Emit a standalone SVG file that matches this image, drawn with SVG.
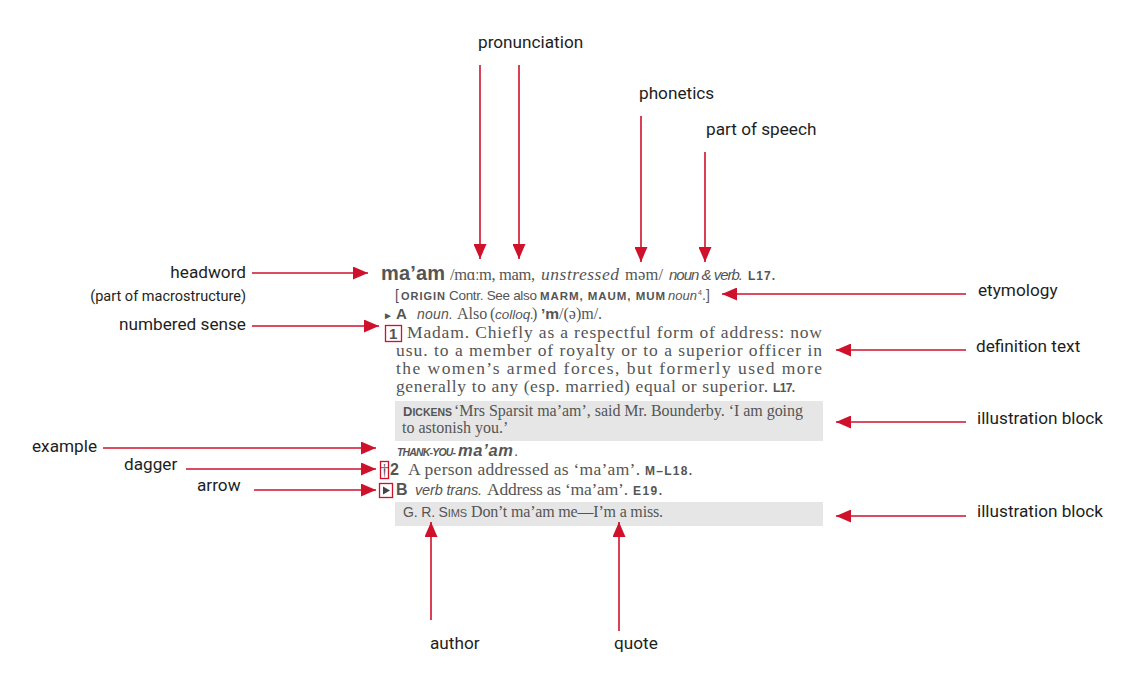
<svg xmlns="http://www.w3.org/2000/svg" width="1140" height="679" viewBox="0 0 1140 679">
<defs>
<marker id="ah" markerUnits="userSpaceOnUse" markerWidth="15" markerHeight="13" refX="15" refY="6.5" orient="auto">
<path d="M0,0 L15,6.5 L0,13 z" fill="#d0112b"/>
</marker>
<style>
.lbl{font-family:Roboto,"Liberation Sans",sans-serif;font-size:17.2px;fill:#1e1e1e}
.sm{font-size:14.5px}
.con line{stroke:#d0112b;stroke-width:1.6;marker-end:url(#ah)}
.ser{font-family:"Liberation Serif","DejaVu Serif",serif;fill:#555}
.sans{font-family:"Liberation Sans",Arial,sans-serif;fill:#555}
.b{font-weight:bold}
.i{font-style:italic}
.box{fill:none;stroke:#d0112b;stroke-width:1.3}
.gray{fill:#e6e6e6}
</style>
</defs>
<rect width="1140" height="679" fill="#ffffff"/>

<g id="entry">
<rect class="gray" x="395" y="401" width="428" height="40"/>
<rect class="gray" x="395" y="502" width="428" height="24"/>
<text y="280"><tspan class="sans b" x="381" font-size="20" fill="#333" textLength="64">ma’am</tspan><tspan class="ser" x="450" font-size="16.5" textLength="85">/mɑːm, mam,</tspan><tspan class="ser i" x="541" font-size="17.5" textLength="78">unstressed</tspan><tspan class="ser" x="625" font-size="16.5" textLength="38">məm/</tspan><tspan class="sans i" x="669" font-size="15" fill="#333" textLength="74">noun &amp; verb.</tspan><tspan class="sans b" x="748" font-size="12" textLength="27">L17.</tspan></text>
<text y="300"><tspan class="sans" x="395" font-size="14">[</tspan><tspan class="sans b" x="401" font-size="11" textLength="44">ORIGIN</tspan><tspan class="sans" x="449" font-size="13.5" textLength="88">Contr. See also</tspan><tspan class="sans b" x="540" font-size="11.5" textLength="125">MARM, MAUM, MUM</tspan><tspan class="sans i" x="668" font-size="13" textLength="29">noun</tspan><tspan class="sans" x="698" y="295" font-size="7">4</tspan><tspan class="sans" x="702" y="300" font-size="14">.]</tspan></text>
<text y="319"><tspan class="sans" x="383" font-size="10">►</tspan><tspan class="sans b" x="396" font-size="15" fill="#333">A</tspan><tspan class="sans i" x="417" font-size="14" textLength="36">noun.</tspan><tspan class="ser" x="457" font-size="16">Also</tspan><tspan class="ser" x="490" font-size="16">(</tspan><tspan class="sans i" x="495" font-size="13.5">colloq.</tspan><tspan class="ser" x="532" font-size="16">)</tspan><tspan class="sans b" x="541" font-size="15.5" fill="#333">’m</tspan><tspan class="ser" x="559" font-size="16">/(ə)m/.</tspan></text>
<rect class="box" x="385.5" y="325.5" width="16" height="16"/>
<text class="sans b" x="389" y="339" font-size="15" fill="#333">1</text>
<g class="ser" font-size="17.5">
<text x="407" y="338" textLength="415" lengthAdjust="spacing">Madam. Chiefly as a respectful form of address: now</text>
<text x="396" y="356" textLength="426" lengthAdjust="spacing">usu. to a member of royalty or to a superior officer in</text>
<text x="396" y="374" textLength="426" lengthAdjust="spacing">the women’s armed forces, but formerly used more</text>
<text x="396" y="392"><tspan textLength="372">generally to any (esp. married) equal or superior.</tspan><tspan class="sans b" x="773" font-size="12" textLength="22">L17.</tspan></text>
</g>
<text y="416"><tspan class="sans b" x="403" font-size="13">D<tspan font-size="10.5">ICKENS</tspan></tspan><tspan class="ser" x="454" font-size="16" textLength="349">‘Mrs Sparsit ma’am’, said Mr. Bounderby. ‘I am going</tspan></text>
<text class="ser" x="402" y="433" font-size="16">to astonish you.’</text>
<text y="456"><tspan class="sans b i" x="397" font-size="10.5" fill="#333" textLength="59">THANK-YOU-</tspan><tspan class="sans b i" x="458" font-size="16.5" fill="#333" textLength="55">ma’am</tspan><tspan class="sans" x="514" font-size="15">.</tspan></text>
<rect class="box" x="380.5" y="461.5" width="8" height="17"/>
<text class="ser" x="380.5" y="476" font-size="16">†</text>
<text y="475"><tspan class="sans b" x="390" font-size="16" fill="#333">2</tspan><tspan class="ser" x="408" font-size="17.5" textLength="232">A person addressed as ‘ma’am’.</tspan><tspan class="sans b" x="645" font-size="12" textLength="47">M–L18.</tspan></text>
<rect class="box" x="379.5" y="483.5" width="13" height="14"/>
<path d="M383,486.5 L390,490.5 L383,494.5 z" fill="#444"/>
<text y="495"><tspan class="sans b" x="396" font-size="16" fill="#333">B</tspan><tspan class="sans i" x="415" font-size="14.5" textLength="67">verb trans.</tspan><tspan class="ser" x="487" font-size="17.5" textLength="141">Address as ‘ma’am’.</tspan><tspan class="sans b" x="633" font-size="12" textLength="29">E19.</tspan></text>
<text y="517"><tspan class="sans" x="403" font-size="14" textLength="64">G. R. S<tspan font-size="11">IMS</tspan></tspan><tspan class="ser" x="471" font-size="16" textLength="192">Don’t ma’am me—I’m a miss.</tspan></text>
</g>

<g class="con">
<line x1="480" y1="65" x2="480" y2="259"/>
<line x1="519" y1="65" x2="519" y2="259"/>
<line x1="641" y1="116" x2="641" y2="262"/>
<line x1="705" y1="152" x2="705" y2="262"/>
<line x1="252" y1="273" x2="368" y2="273"/>
<line x1="252" y1="326" x2="379" y2="326"/>
<line x1="103" y1="448" x2="376" y2="448"/>
<line x1="186" y1="469" x2="376" y2="469"/>
<line x1="254" y1="490" x2="376" y2="490"/>
<line x1="966" y1="294" x2="722" y2="294"/>
<line x1="966" y1="350" x2="836" y2="350"/>
<line x1="966" y1="422" x2="836" y2="422"/>
<line x1="966" y1="516" x2="836" y2="516"/>
<line x1="431" y1="620" x2="431" y2="522"/>
<line x1="619" y1="631" x2="619" y2="522"/>
</g>

<g id="lbl-pronunciation"><text class="lbl" x="478" y="48">pronunciation</text></g>
<g id="lbl-phonetics"><text class="lbl" x="639" y="99">phonetics</text></g>
<g id="lbl-pos"><text class="lbl" x="706" y="135">part of speech</text></g>
<g id="lbl-headword"><text class="lbl" x="246" y="278" text-anchor="end">headword</text>
<text class="lbl sm" x="246" y="301" text-anchor="end">(part of macrostructure)</text></g>
<g id="lbl-sense"><text class="lbl" x="246" y="330" text-anchor="end">numbered sense</text></g>
<g id="lbl-example"><text class="lbl" x="32" y="452">example</text></g>
<g id="lbl-dagger"><text class="lbl" x="124" y="470">dagger</text></g>
<g id="lbl-arrow"><text class="lbl" x="197" y="491">arrow</text></g>
<g id="lbl-etymology"><text class="lbl" x="978" y="296">etymology</text></g>
<g id="lbl-definition"><text class="lbl" x="976" y="352">definition text</text></g>
<g id="lbl-illus1"><text class="lbl" x="977" y="424">illustration block</text></g>
<g id="lbl-illus2"><text class="lbl" x="977" y="517">illustration block</text></g>
<g id="lbl-author"><text class="lbl" x="430" y="649">author</text></g>
<g id="lbl-quote"><text class="lbl" x="614" y="649">quote</text></g>
</svg>
